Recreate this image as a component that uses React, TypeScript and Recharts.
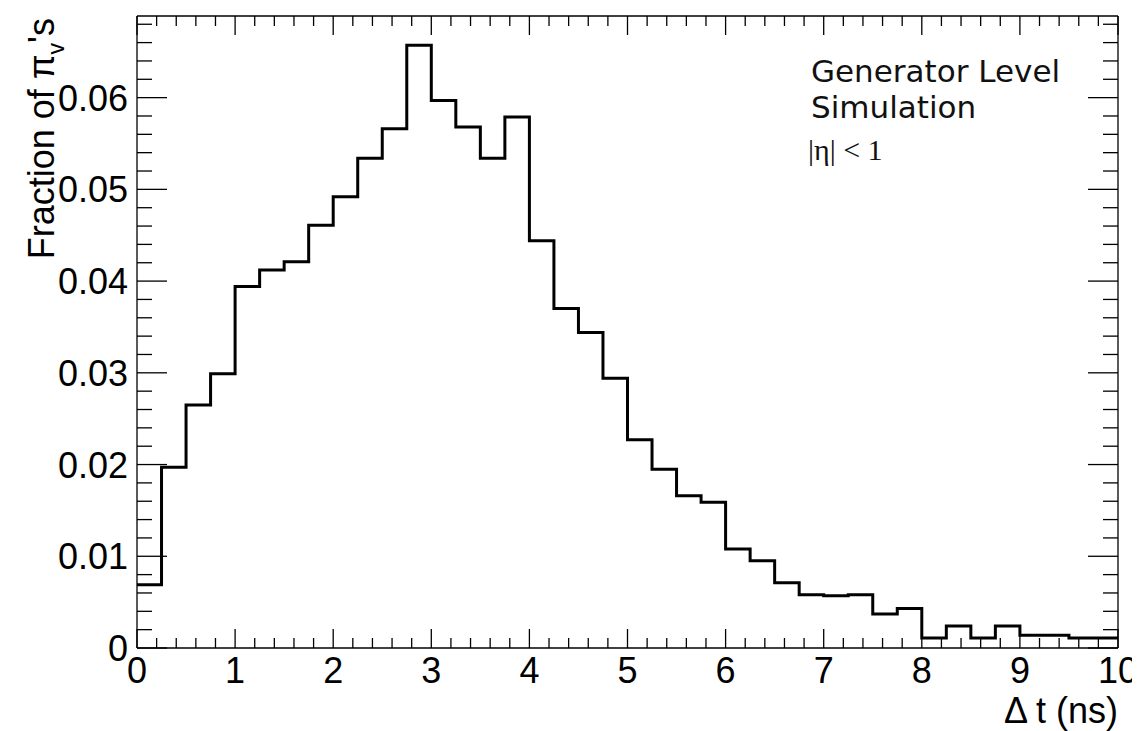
import React from "react";
import { ComposedChart, Line, XAxis, YAxis } from "recharts";

// bin contents, 40 bins of 0.25 ns from 0 to 10 ns
const BIN_WIDTH = 0.25;
const fractions = [
  0.0069, 0.0197, 0.0265, 0.0299, 0.0394, 0.0412, 0.0421, 0.0461, 0.0492, 0.0534,
  0.0566, 0.0657, 0.0597, 0.0568, 0.0534, 0.0579, 0.0444, 0.037, 0.0344, 0.0294,
  0.0227, 0.0195, 0.0166, 0.0159, 0.0108, 0.0095, 0.0071, 0.0058, 0.0057, 0.0058,
  0.0037, 0.0043, 0.0011, 0.0024, 0.0011, 0.0024, 0.0014, 0.0014, 0.0011, 0.0011,
];

const xMajorTicks = [0, 1, 2, 3, 4, 5, 6, 7, 8, 9, 10];
const yMajorTicks = [0, 0.01, 0.02, 0.03, 0.04, 0.05, 0.06];
const xMinorTicks = Array.from({ length: 51 }, (_, i) => +(i * 0.2).toFixed(1));
const yMinorTicks = Array.from({ length: 35 }, (_, i) => +(i * 0.002).toFixed(3));

const X_DOMAIN: [number, number] = [0, 10];
const Y_DOMAIN: [number, number] = [0, 0.0689];

const FONT = "'Liberation Sans', Arial, Helvetica, sans-serif";
const LINE_W = 1.3;
const W = 1132;
const H = 723;

// step points at each bin's lower edge, plus the closing edge
const histData = [
  ...fractions.map((v, i) => ({ edge: i * BIN_WIDTH, value: v })),
  { edge: fractions.length * BIN_WIDTH, value: fractions[fractions.length - 1] },
];

const isMajor = (v: number, list: number[]) =>
  list.some((m) => Math.abs(m - v) < 1e-9);

function BottomTick({ x, y, payload }: any) {
  const major = isMajor(payload.value, xMajorTicks);
  return (
    <g>
      <line x1={x} x2={x} y1={y} y2={y - (major ? 19 : 10)} stroke="#000" strokeWidth={LINE_W} />
      {major && (
        <text x={x} y={y + 9} dy="0.71em" textAnchor="middle" fontSize={36} fontFamily={FONT} fill="#000">
          {payload.value}
        </text>
      )}
    </g>
  );
}

function TopTick({ x, y, payload }: any) {
  const major = isMajor(payload.value, xMajorTicks);
  return <line x1={x} x2={x} y1={y} y2={y + (major ? 19 : 10)} stroke="#000" strokeWidth={LINE_W} />;
}

function LeftTick({ x, y, payload }: any) {
  const major = isMajor(payload.value, yMajorTicks);
  return (
    <g>
      <line x1={x} x2={x + (major ? 30 : 15)} y1={y} y2={y} stroke="#000" strokeWidth={LINE_W} />
      {major && (
        <text x={x - 9} y={y} dy="0.36em" textAnchor="end" fontSize={36} fontFamily={FONT} fill="#000">
          {payload.value === 0 ? "0" : payload.value.toFixed(2)}
        </text>
      )}
    </g>
  );
}

function RightTick({ x, y, payload }: any) {
  const major = isMajor(payload.value, yMajorTicks);
  return <line x1={x} x2={x - (major ? 30 : 15)} y1={y} y2={y} stroke="#000" strokeWidth={LINE_W} />;
}

const frame = { stroke: "#000", strokeWidth: LINE_W };

export default function App() {
  return (
    <div style={{ position: "relative", width: W, height: H }}>
      <ComposedChart
        width={W}
        height={H}
        data={histData}
        margin={{ top: 7, right: 21, bottom: 0, left: 0 }}
      >
        <XAxis
          xAxisId="bottom"
          dataKey="edge"
          type="number"
          domain={X_DOMAIN}
          allowDataOverflow
          ticks={xMinorTicks}
          interval={0}
          height={83}
          tickSize={0}
          tickMargin={0}
          tickLine={false}
          axisLine={frame}
          tick={BottomTick}
        />
        <XAxis
          xAxisId="top"
          orientation="top"
          dataKey="edge"
          type="number"
          domain={X_DOMAIN}
          allowDataOverflow
          ticks={xMinorTicks}
          interval={0}
          height={1}
          tickSize={0}
          tickMargin={0}
          tickLine={false}
          axisLine={frame}
          tick={TopTick}
        />
        <YAxis
          yAxisId="left"
          type="number"
          domain={Y_DOMAIN}
          allowDataOverflow
          ticks={yMinorTicks}
          interval={0}
          width={129}
          tickSize={0}
          tickMargin={0}
          tickLine={false}
          axisLine={frame}
          tick={LeftTick}
        />
        <YAxis
          yAxisId="right"
          orientation="right"
          type="number"
          domain={Y_DOMAIN}
          allowDataOverflow
          ticks={yMinorTicks}
          interval={0}
          width={1}
          tickSize={0}
          tickMargin={0}
          tickLine={false}
          axisLine={frame}
          tick={RightTick}
        />
        {/* invisible copy so the top/right frame axes get a domain */}
        <Line
          xAxisId="top"
          yAxisId="right"
          type="stepAfter"
          dataKey="value"
          stroke="none"
          dot={false}
          activeDot={false}
          isAnimationActive={false}
        />
        <Line
          xAxisId="bottom"
          yAxisId="left"
          type="stepAfter"
          dataKey="value"
          stroke="#000"
          strokeWidth={3}
          dot={false}
          activeDot={false}
          isAnimationActive={false}
        />
      </ComposedChart>
      <svg
        width={W}
        height={H}
        style={{ position: "absolute", left: 0, top: 0, pointerEvents: "none" }}
      >
        <text
          transform="translate(46, 10) rotate(-90)"
          textAnchor="end"
          fontSize={36}
          fontFamily={FONT}
          fill="#000"
        >
          Fraction of π
          <tspan fontSize={23} dy={10}>v</tspan>
          <tspan dy={-10}>'s</tspan>
        </text>
        <text x={1110} y={715} textAnchor="end" fontSize={36} fontFamily={FONT} fill="#000">
          Δ t (ns)
        </text>
        <text x={803} y={74} fontSize={31} fontFamily="'DejaVu Sans', sans-serif" fill="#111">
          Generator Level
        </text>
        <text x={803} y={110} fontSize={31} fontFamily="'DejaVu Sans', sans-serif" fill="#111">
          Simulation
        </text>
        <text x={800} y={152} fontSize={30} fontFamily="'Liberation Serif', 'Times New Roman', serif" fill="#111">
          |η| &lt; 1
        </text>
      </svg>
    </div>
  );
}
